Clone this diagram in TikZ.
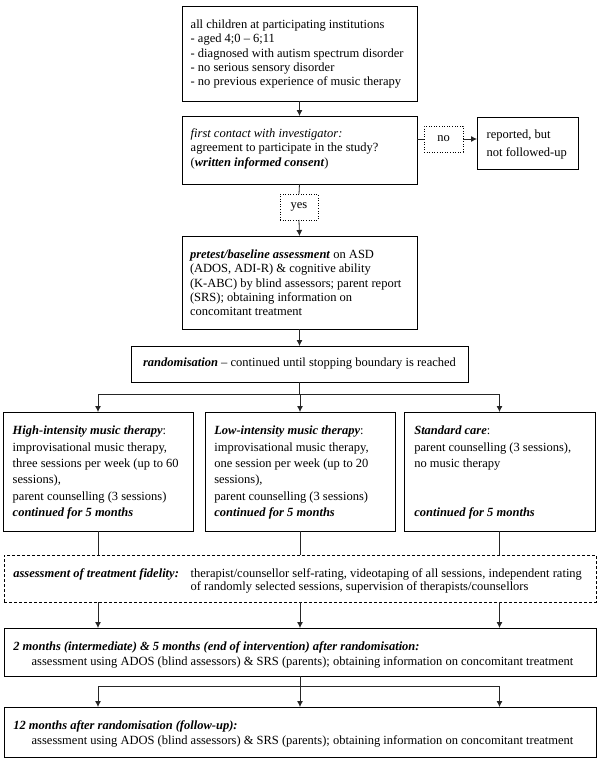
\documentclass[tikz,border=0pt]{standalone}
\usepackage{fontspec}
\setmainfont{Liberation Serif}
\usetikzlibrary{arrows.meta,calc}
\newcommand\fs[1]{\fontsize{12.5pt}{#1pt}\selectfont}
\newcommand\bi[1]{\textbf{\textit{#1}}}
\tikzset{
 box/.style={draw=black, line width=1pt, inner sep=0pt, outer sep=0pt, anchor=north west, font=\fs{14.3}},
 dotbox/.style={box, line width=0.6pt, dotted},
 dashbox/.style={box, dash pattern=on 3pt off 2pt},
 txt/.style={inner sep=0pt, outer sep=0pt, anchor=north west, align=left, font=\fs{14.3}},
 conn/.style={draw=black!85, line width=0.8pt},
 arr/.style={conn, -{Latex[length=6pt,width=6pt]}},
}
\begin{document}
\begin{tikzpicture}[x=1pt,y=-1pt]
\fill[white] (0,0) rectangle (600,761);
\useasboundingbox (0,0) rectangle (600,761);

% boxes
\node[box, minimum width=235pt, minimum height=95pt] (b1) at (182,6) {};
\node[txt] (t1) at (190.7,20) {all children at participating institutions\\- aged 4;0 – 6;11\\- diagnosed with autism spectrum disorder\\- no serious sensory disorder\\- no previous experience of music therapy};

\node[box, minimum width=235pt, minimum height=68pt] (b2) at (182,116) {};
\node[txt] (t2) at (190.7,128.7) {\textit{first contact with investigator:}\\agreement to participate in the study?\\(\bi{written informed consent})};

\node[dotbox, minimum width=39pt, minimum height=26pt] (no) at (424,126) {no};
\node[box, minimum width=101pt, minimum height=52pt] (rep) at (477,117) {};
\node[txt, font=\fs{17.7}] (trep) at (486.7,130) {reported, but\\not followed-up};

\node[dotbox, minimum width=38pt, minimum height=26pt] (yes) at (280,194) {yes};

\node[box, minimum width=235pt, minimum height=93pt] (b3) at (182,236) {};
\node[txt] (t3) at (190,250) {\bi{pretest/baseline assessment} on ASD\\(ADOS, ADI-R) \& cognitive ability\\(K-ABC) by blind assessors; parent report\\(SRS); obtaining information on\\concomitant treatment};

\node[box, minimum width=337pt, minimum height=36pt] (rand) at (131,346) {\bi{randomisation} – continued until stopping boundary is reached};

\node[box, minimum width=190pt, minimum height=119pt] (A) at (3,412) {};
\node[box, minimum width=190pt, minimum height=119pt] (B) at (205,412) {};
\node[box, minimum width=191pt, minimum height=119pt] (C) at (404,412) {};
\node[txt, font=\fs{16.4}] (tA) at (12.7,426) {\bi{High-intensity music therapy}:\\improvisational music therapy,\\three sessions per week (up to 60\\sessions),\\parent counselling (3 sessions)\\\bi{continued for 5 months}};
\node[txt, font=\fs{16.4}] (tB) at (214.3,426) {\bi{Low-intensity music therapy}:\\improvisational music therapy,\\one session per week (up to 20\\sessions),\\parent counselling (3 sessions)\\\bi{continued for 5 months}};
\node[txt, font=\fs{16.4}] (tC) at (414.3,426) {\bi{Standard care}:\\parent counselling (3 sessions),\\no music therapy\\~\\~\\\bi{continued for 5 months}};

\node[dashbox, minimum width=592pt, minimum height=47pt] (fid) at (4,555) {};
\node[txt] (fl) at (13.3,568.5) {\bi{assessment of treatment fidelity:}};
\node[txt, font=\fs{13}] (fd) at (190.7,568.5) {therapist/counsellor self-rating, videotaping of all sessions, independent rating\\of randomly selected sessions, supervision of therapists/counsellors};

\node[box, minimum width=592pt, minimum height=48pt] (m2) at (4,628) {};
\node[txt, font=\fs{14.7}] (tm2) at (13.3,642) {\bi{2 months (intermediate) \& 5 months (end of intervention) after randomisation:}\\\hspace*{18.4pt}assessment using ADOS (blind assessors) \& SRS (parents); obtaining information on concomitant treatment};

\node[box, minimum width=592pt, minimum height=50pt] (m12) at (4,707) {};
\node[txt] (tm12) at (13.3,721) {\bi{12 months after randomisation (follow-up):}\\\hspace*{18.4pt}assessment using ADOS (blind assessors) \& SRS (parents); obtaining information on concomitant treatment};

% connectors
\draw[arr] (b1.south) -- (b2.north);
\draw[conn] (b2.east |- no.west) -- (no.west);
\draw[arr] (no.east) -- (rep.west |- no.east);
\draw[conn] (b2.south) -- (yes.north);
\draw[arr] (yes.south) -- (b3.north);
\draw[arr] (b3.south) -- (rand.north);
\coordinate (r1) at ($(rand.south)+(0,12)$);
\draw[conn] (rand.south) -- (r1);
\draw[arr] (r1) -| (A.north);
\draw[arr] (r1) -| (C.north);
\draw[arr] (r1 -| B.north) -- (B.north);
\draw[conn] (A.south) -- (A.south |- fid.north);
\draw[conn] (B.south) -- (B.south |- fid.north);
\draw[conn] (C.south) -- (C.south |- fid.north);
\draw[arr] (fid.south -| A.south) -- (m2.north -| A.south);
\draw[arr] (fid.south -| B.south) -- (m2.north -| B.south);
\draw[arr] (fid.south -| C.south) -- (m2.north -| C.south);
\coordinate (r2) at ($(m2.south)+(0,10)$);
\draw[conn] (m2.south) -- (r2);
\draw[arr] (r2) -| (m12.north -| A.south);
\draw[arr] (r2) -| (m12.north -| C.south);
\draw[arr] (r2) -- (m12.north -| r2);
\end{tikzpicture}
\end{document}
